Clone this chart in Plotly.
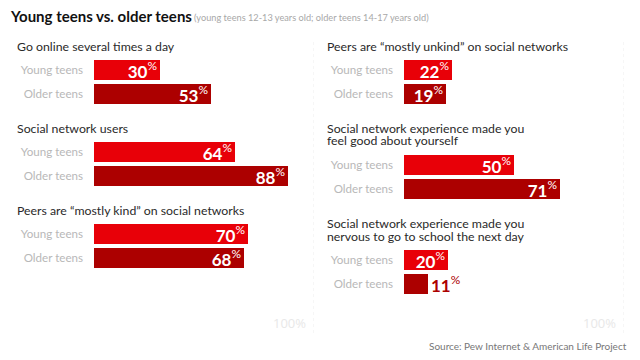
import plotly.graph_objects as go

# ---------------- data ----------------
title_text = "Young teens vs. older teens"
subtitle_text = "(young teens 12-13 years old; older teens 14-17 years old)"
source_text = "Source: Pew Internet & American Life Project"
series_names = ["Young teens", "Older teens"]

questions_left = [
    "Go online several times a day",
    "Social network users",
    "Peers are \u201cmostly kind\u201d on social networks",
]
young_left = [30, 64, 70]
older_left = [53, 88, 68]

questions_right = [
    "Peers are \u201cmostly unkind\u201d on social networks",
    "Social network experience made you\nfeel good about yourself",
    "Social network experience made you\nnervous to go to school the next day",
]
young_right = [22, 50, 20]
older_right = [19, 71, 11]

# ---------------- style ----------------
W, H = 640, 360
YOUNG_COLOR = "#e80008"
OLDER_COLOR = "#ac0000"
FONT = "Lato"

panels = [
    dict(q=questions_left, young=young_left, older=older_left,
         x0=94, x1=314, title_x=15),
    dict(q=questions_right, young=young_right, older=older_right,
         x0=404, x1=624, title_x=325),
]

fig = go.Figure()
annotations = []
shapes = []


def group_positions(questions, start=46, line=13, to_bar=24, bar_gap=24, to_next=34):
    title_pos, bar_pos = [], []
    y = start
    for q in questions:
        lines = q.split("\n")
        title_pos.append([y + i * line for i in range(len(lines))])
        yy = y + line * (len(lines) - 1) + to_bar
        yo = yy + bar_gap
        bar_pos.append((yy, yo))
        y = yo + to_next
    return title_pos, bar_pos


def pct_text(v):
    return f"<b>{v}</b><sup>%</sup>"


for i, p in enumerate(panels):
    xa = "x" if i == 0 else f"x{i+1}"
    ya = "y" if i == 0 else f"y{i+1}"
    title_pos, bar_pos = group_positions(p["q"])
    ys_young = [b[0] for b in bar_pos]
    ys_old = [b[1] for b in bar_pos]
    for vals, ys, color in [(p["young"], ys_young, YOUNG_COLOR),
                            (p["older"], ys_old, OLDER_COLOR)]:
        fig.add_trace(go.Bar(
            x=vals, y=ys, orientation="h", width=20,
            marker=dict(color=color, line=dict(width=0)),
            text=[pct_text(v) for v in vals],
            textposition=["inside" if v >= 15 else "outside" for v in vals],
            insidetextanchor="end",
            insidetextfont=dict(family=FONT, size=17, color="white"),
            outsidetextfont=dict(family=FONT, size=17, color=OLDER_COLOR),
            constraintext="none", cliponaxis=False,
            xaxis=xa, yaxis=ya, showlegend=False, hoverinfo="skip",
        ))
    # question titles
    for q, tp in zip(p["q"], title_pos):
        for line, yline in zip(q.split("\n"), tp):
            annotations.append(dict(
                text=line, x=p["title_x"] / W, y=1 - yline / H,
                xref="paper", yref="paper", xanchor="left", yanchor="middle",
                showarrow=False,
                font=dict(family=FONT, size=12.3, color="#2a2a2a"),
            ))
    # axes
    xd = [p["x0"] / W, p["x1"] / W]
    xkey = "xaxis" if i == 0 else f"xaxis{i+1}"
    ykey = "yaxis" if i == 0 else f"yaxis{i+1}"
    fig.update_layout(**{
        xkey: dict(domain=xd, range=[0, 100], anchor=ya, visible=False,
                   fixedrange=True),
        ykey: dict(domain=[0, 1], range=[H, 0], anchor=xa,
                   tickvals=ys_young + ys_old,
                   ticktext=[series_names[0]] * len(ys_young) + [series_names[1]] * len(ys_old),
                   showgrid=False, zeroline=False, showline=False, ticks="",
                   ticklabelstandoff=10, automargin=False,
                   tickfont=dict(family=FONT, size=11.6, color="#b8b8b8"),
                   fixedrange=True),
    })
    # faint 100% guide
    shapes.append(dict(type="line", xref=xa, yref="paper", x0=100, x1=100,
                       y0=1 - 42 / H, y1=1 - 333 / H,
                       line=dict(color="#ececec", width=1, dash="dot")))
    annotations.append(dict(
        text="100%", x=(p["x1"] - 6) / W, y=1 - 323 / H, xref="paper", yref="paper",
        xanchor="right", yanchor="middle", showarrow=False,
        font=dict(family="Open Sans", size=13, color="#e8e8e8"),
    ))

annotations.append(dict(
    text=f"<b>{title_text}</b>", x=8 / W, y=1 - 16 / H, xref="paper", yref="paper",
    xanchor="left", yanchor="middle", showarrow=False,
    font=dict(family=FONT, size=15, color="#111111"),
))
annotations.append(dict(
    text=subtitle_text, x=192 / W, y=1 - 17 / H, xref="paper", yref="paper",
    xanchor="left", yanchor="middle", showarrow=False,
    font=dict(family=FONT, size=9.2, color="#a8a8a8"),
))
annotations.append(dict(
    text=source_text, x=629 / W, y=1 - 346 / H, xref="paper", yref="paper",
    xanchor="right", yanchor="middle", showarrow=False,
    font=dict(family=FONT, size=10, color="#777777"),
))

fig.update_layout(
    width=W, height=H, margin=dict(l=0, r=0, t=0, b=0),
    paper_bgcolor="white", plot_bgcolor="white",
    annotations=annotations, shapes=shapes, bargap=0,
)

fig.write_html("out.html", config={"displayModeBar": False},
               post_script="document.body.style.margin='0px';")
